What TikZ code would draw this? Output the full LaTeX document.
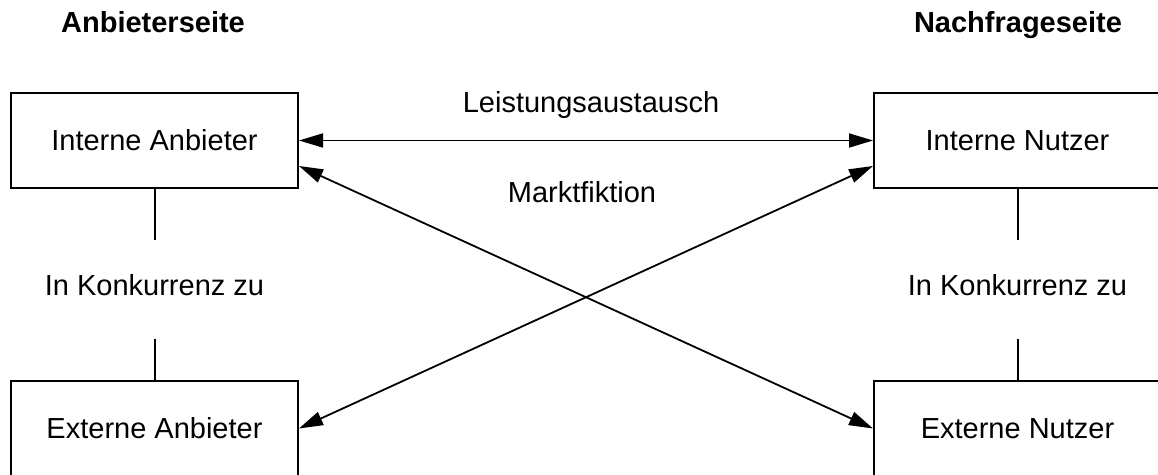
\documentclass[tikz,border=0pt]{standalone}
\usepackage{fontspec}
\setmainfont{Liberation Sans}
\usetikzlibrary{arrows.meta}
\usetikzlibrary{positioning}

\tikzset{
    box/.style={draw,line width=1pt,minimum width=143.5pt,minimum height=47.5pt},
    txt/.style={anchor=base},
    gap/.style={inner sep=0pt,outer sep=0pt,text height=27.5pt,text depth=22pt}
}

\begin{document}
\begin{tikzpicture}[x=0.5pt,y=-0.5pt,font=\fontsize{14.5}{17}\selectfont,
        >={Triangle[length=12pt,width=7pt]}]
        \useasboundingbox (0,0) rectangle (1158,475);
        \node [txt,font=\fontsize{14.5}{17}\selectfont\bfseries] (as) at (153,33) {Anbieterseite};
        \node [txt,font=\fontsize{14.5}{17}\selectfont\bfseries] (ns) at (1018,33) {Nachfrageseite};
        \node [box] (ia) at (154.5,140.5) {Interne Anbieter};
        \node [box] (in) [right=287pt of ia] {Interne Nutzer};
        \node [box] (ea) [below=95.5pt of ia] {Externe Anbieter};
        \node [box] (en) [below=95.5pt of in] {Externe Nutzer};
        \node [txt] (la) at (591,113) {Leistungsaustausch};
        \node [txt] (mf) at (582,203) {Marktfiktion};
        \node [gap] (ka) at (154.5,290) {In Konkurrenz zu};
        \node [gap] (kn) at (1017.5,290) {In Konkurrenz zu};
        \path[draw,line width=1pt]
            (ia.south) -- (ka.north)
            (ka.south) -- (ea.north)
            (in.south) -- (kn.north)
            (kn.south) -- (en.north);
        \path[<->,line width=0.9pt]
            (ia.east) edge (in.west)
            (ia.-10) edge (en.west)
            (ea.east) edge (in.190);
    \end{tikzpicture}
\end{document}
